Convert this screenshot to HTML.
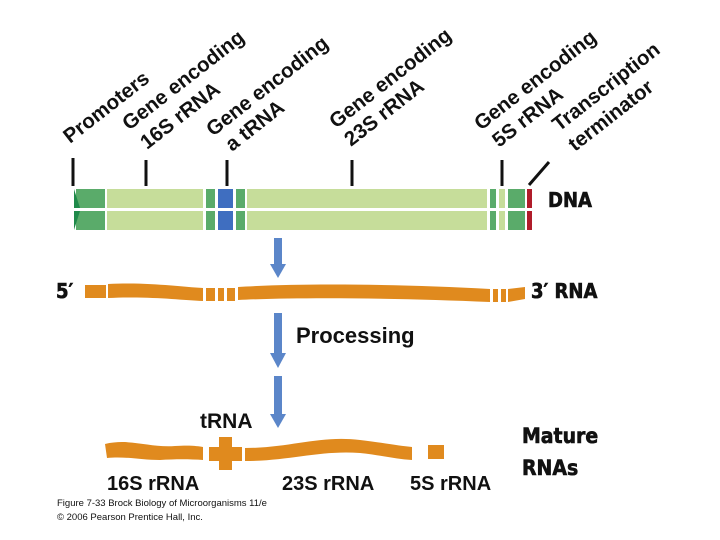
<!DOCTYPE html>
<html><head><meta charset="utf-8"><style>
html,body{margin:0;padding:0;background:#fff;}
svg{display:block;}
text{font-family:"Liberation Sans",sans-serif;font-weight:bold;fill:#111;}
.h{font-family:"DejaVu Sans Condensed","Liberation Sans",sans-serif;font-weight:900;stroke:#111;stroke-width:0.6;}
</style></head><body>
<svg width="720" height="540" viewBox="0 0 720 540" xmlns="http://www.w3.org/2000/svg">
<g font-size="20.5">
<text transform="translate(70,144) rotate(-38)">Promoters</text>
<text transform="translate(129,131) rotate(-38)">Gene encoding</text>
<text transform="translate(147,150) rotate(-38)">16S rRNA</text>
<text transform="translate(213,137) rotate(-38)">Gene encoding</text>
<text transform="translate(232,152) rotate(-38)">a tRNA</text>
<text transform="translate(336,129) rotate(-38)">Gene encoding</text>
<text transform="translate(351,147) rotate(-38)">23S rRNA</text>
<text transform="translate(481,131) rotate(-38)">Gene encoding</text>
<text transform="translate(499,148) rotate(-38)">5S rRNA</text>
<text transform="translate(559,132) rotate(-38)">Transcription</text>
<text transform="translate(575,152) rotate(-38)">terminator</text>
</g>
<g stroke="#111" stroke-width="3">
<line x1="73" y1="158" x2="73" y2="186"/>
<line x1="146" y1="160" x2="146" y2="186"/>
<line x1="227" y1="160" x2="227" y2="186"/>
<line x1="352" y1="160" x2="352" y2="186"/>
<line x1="502" y1="160" x2="502" y2="186"/>
<line x1="529" y1="185" x2="549" y2="162"/>
</g>
<g>
<rect x="76" y="189" width="29" height="19" fill="#5aab6a"/>
<rect x="76" y="211" width="29" height="19" fill="#5aab6a"/>
<polygon points="74,189 80,208 74,208" fill="#1f8a4a"/>
<polygon points="74,211 80,211 74,230" fill="#1f8a4a"/>
<rect x="107" y="189" width="96" height="19" fill="#c6dd9a"/>
<rect x="107" y="211" width="96" height="19" fill="#c6dd9a"/>
<rect x="206" y="189" width="9" height="19" fill="#5aab6a"/>
<rect x="206" y="211" width="9" height="19" fill="#5aab6a"/>
<rect x="218" y="189" width="15" height="19" fill="#3f6ec0"/>
<rect x="218" y="211" width="15" height="19" fill="#3f6ec0"/>
<rect x="236" y="189" width="9" height="19" fill="#5aab6a"/>
<rect x="236" y="211" width="9" height="19" fill="#5aab6a"/>
<rect x="247" y="189" width="240" height="19" fill="#c6dd9a"/>
<rect x="247" y="211" width="240" height="19" fill="#c6dd9a"/>
<rect x="490" y="189" width="6" height="19" fill="#5aab6a"/>
<rect x="490" y="211" width="6" height="19" fill="#5aab6a"/>
<rect x="499" y="189" width="6" height="19" fill="#c6dd9a"/>
<rect x="499" y="211" width="6" height="19" fill="#c6dd9a"/>
<rect x="508" y="189" width="17" height="19" fill="#5aab6a"/>
<rect x="508" y="211" width="17" height="19" fill="#5aab6a"/>
<rect x="527" y="189" width="5" height="19" fill="#b01c2a"/>
<rect x="527" y="211" width="5" height="19" fill="#b01c2a"/>
</g>
<text class="h" x="548" y="207" font-size="20">DNA</text>
<g fill="#5b86c9">
<rect x="274" y="238" width="8" height="28"/><polygon points="270,264 286,264 278,278"/>
<rect x="274" y="313" width="8" height="42"/><polygon points="270,353 286,353 278,368"/>
<rect x="274" y="376" width="8" height="40"/><polygon points="270,414 286,414 278,428"/>
</g>
<text class="h" x="56" y="298" font-size="20">5′</text>
<text class="h" x="531" y="298" font-size="20">3′ RNA</text>
<g fill="#e08a1e">
<rect x="85" y="285" width="21" height="13"/>
<path d="M108,284 C150,282 180,287 203,288 L203,301 C180,300 150,296 108,298 Z"/>
<rect x="206" y="288" width="9" height="13"/>
<rect x="218" y="288" width="6" height="13"/>
<rect x="227" y="288" width="8" height="13"/>
<path d="M238,287 C300,283 400,284 490,289 L490,302 C400,298 300,297 238,300 Z"/>
<rect x="493" y="289" width="5" height="13"/>
<rect x="501" y="289" width="5" height="13"/>
<path d="M508,289 L525,287 L525,299 L508,302 Z"/>
</g>
<text x="296" y="343" font-size="22">Processing</text>
<text x="200" y="428" font-size="21">tRNA</text>
<g fill="#e08a1e">
<path d="M105,444 C130,438 150,448 175,446 C190,445 198,446 203,447 L203,460 C190,459 175,459 160,460 C140,460 125,456 107,458 Z"/>
<rect x="219" y="437" width="13" height="33"/>
<rect x="209" y="447" width="33" height="14"/>
<path d="M245,448 C290,448 320,435 360,440 C385,443 400,446 412,447 L412,460 C395,459 380,455 360,453 C320,450 290,461 245,461 Z"/>
<rect x="428" y="445" width="16" height="14"/>
</g>
<g font-size="20">
<text x="107" y="490">16S rRNA</text>
<text x="282" y="490">23S rRNA</text>
<text x="410" y="490">5S rRNA</text>
</g>
<text class="h" x="522" y="443" font-size="21">Mature</text>
<text class="h" x="522" y="475" font-size="21">RNAs</text>
<g font-size="9.5">
<text x="57" y="506" style="font-weight:normal">Figure 7-33  Brock Biology of Microorganisms 11/e</text>
<text x="57" y="520" style="font-weight:normal">© 2006 Pearson Prentice Hall, Inc.</text>
</g>
</svg>
</body></html>
